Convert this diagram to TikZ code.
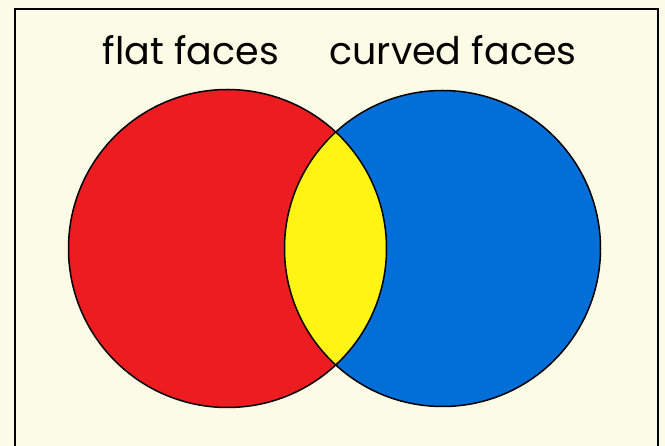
\documentclass[tikz,border=0pt]{standalone}
\usepackage{fontspec}
\setmainfont{Poppins}
\definecolor{paper}{RGB}{252,251,229}
\definecolor{flatred}{RGB}{236,28,32}
\definecolor{curvedblue}{RGB}{2,110,216}
\definecolor{bothyellow}{RGB}{255,244,20}
\begin{document}
\begin{tikzpicture}[x=1pt, y=-1pt,
    facelabel/.style={font=\fontsize{38}{38}\selectfont, anchor=base, inner sep=0pt},
    rim/.style={line width=1.5pt}]
    \fill[paper] (0,0) rectangle (665,446);
    \useasboundingbox (0,0) rectangle (665,446);
    \draw[line width=2pt] (15,446) -- (15,9) -- (658,9) -- (658,446);
    \fill[flatred] (227.5,248.5) circle (159pt);
    \fill[curvedblue] (442.5,248.5) circle (158pt);
    \begin{scope}
        \clip (227.5,248.5) circle (159pt);
        \fill[bothyellow] (442.5,248.5) circle (158pt);
    \end{scope}
    \draw[rim] (227.5,248.5) circle (159pt);
    \draw[rim] (442.5,248.5) circle (158pt);
    \node[facelabel] (flat) at (191,65) {flat faces};
    \node[facelabel] (curved) at (453,65) {curved faces};
\end{tikzpicture}
\end{document}
